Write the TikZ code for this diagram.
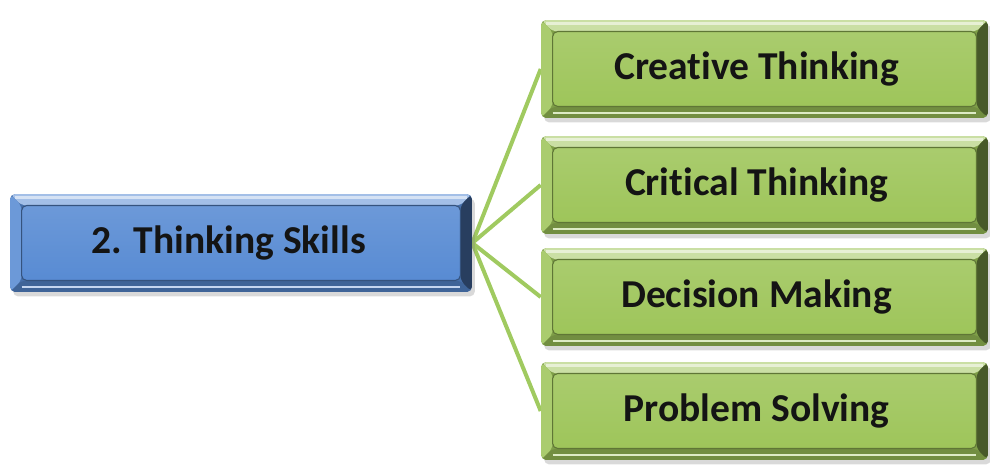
\documentclass[tikz,border=0pt]{standalone}
\usepackage{fontspec}
\setmainfont{Carlito}[Ligatures=NoCommon]
\usetikzlibrary{calc,shadows,backgrounds}

\definecolor{skillblue}{RGB}{88,139,211}
\definecolor{subgreen}{RGB}{158,197,90}
\definecolor{linkgreen}{RGB}{160,202,96}

\def\bevelw{0.23cm}

\tikzset{
  bevel/.style={
    rounded corners=3pt, fill=#1!80!black,
    drop shadow={opacity=0.3, shadow xshift=0.06cm, shadow yshift=-0.09cm},
    font=\fontsize{22.5}{27}\selectfont\bfseries, text=black!92,
    path picture={
      \coordinate (nw) at (path picture bounding box.north west);
      \coordinate (ne) at (path picture bounding box.north east);
      \coordinate (sw) at (path picture bounding box.south west);
      \coordinate (se) at (path picture bounding box.south east);
      % facets of the raised frame
      \fill[#1!55!white] (nw) -- (ne) -- ($(ne)+(-\bevelw,-\bevelw)$) -- ($(nw)+(\bevelw,-\bevelw)$) -- cycle;
      \fill[#1!88!white] (nw) -- (sw) -- ($(sw)+(\bevelw,\bevelw)$) -- ($(nw)+(\bevelw,-\bevelw)$) -- cycle;
      \fill[#1!72!black] (sw) -- (se) -- ($(se)+(-\bevelw,\bevelw)$) -- ($(sw)+(\bevelw,\bevelw)$) -- cycle;
      \fill[#1!45!black] (ne) -- (se) -- ($(se)+(-\bevelw,\bevelw)$) -- ($(ne)+(-\bevelw,-\bevelw)$) -- cycle;
      % flat top face
      \shade[top color=#1!88!white, bottom color=#1]
        ($(nw)+(\bevelw,-\bevelw)$) rectangle ($(se)+(-\bevelw,\bevelw)$);
      % highlights
      \draw[white, opacity=0.55, line width=1.2pt]
        ($(nw)+(0.1cm,-0.07cm)$) -- ($(ne)+(-0.1cm,-0.07cm)$);
      \draw[#1!35!white, line width=1.2pt]
        ($(sw)+(\bevelw,0.1cm)$) -- ($(se)+(-\bevelw,0.1cm)$);
      \draw[#1!60!black, line width=0.6pt]
        ($(nw)+(\bevelw,-\bevelw)$) rectangle ($(se)+(-\bevelw,\bevelw)$);
    }},
  skillbox/.style={bevel=skillblue, minimum width=9.24cm, minimum height=1.96cm,
    execute at end node={\hspace{0.5cm}}},
  subbox/.style={bevel=subgreen, minimum width=8.94cm, minimum height=1.96cm,
    execute at end node={\hspace{0.32cm}}},
  link/.style={linkgreen, line width=0.08cm},
}

\begin{document}
\begin{tikzpicture}[x=0.02cm, y=-0.02cm]
\useasboundingbox (0,0) rectangle (990,466);

\node(skills) at (241,243) [skillbox] {2. Thinking Skills};

\node(creative) at (764.5,69) [subbox] {Creative Thinking};
\node(critical) at (764.5,185) [subbox] {Critical Thinking};
\node(decision) at (764.5,297) [subbox] {Decision Making};
\node(problem) at (764.5,411) [subbox] {Problem Solving};

% fan of links, kept behind the boxes
\begin{scope}[on background layer]
\draw[link] (skills.east) to (creative.west);
\draw[link] (skills.east) to (critical.west);
\draw[link] (skills.east) to (decision.west);
\draw[link] (skills.east) to (problem.west);
\end{scope}

\end{tikzpicture}
\end{document}
